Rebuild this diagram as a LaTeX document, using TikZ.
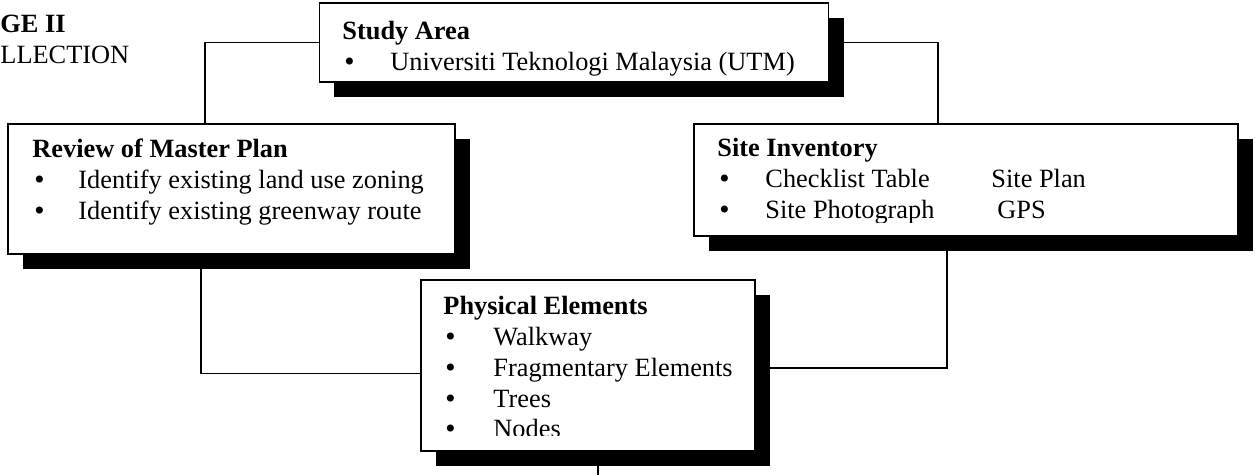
\documentclass[tikz,border=0pt]{standalone}
\usepackage{fontspec}
\setmainfont{Liberation Serif}
\newfontfamily\bulletfont{DejaVu Sans}
\usetikzlibrary{calc,shadows,backgrounds}
\newdimen\pxu
\pxu=0.016cm
\newcommand\bul{{\bulletfont\fontsize{11}{14}\selectfont\textbullet}}

\begin{document}
\begin{tikzpicture}[x=0.016cm, y=-0.016cm,
  every node/.style={font=\fontsize{12}{14}\selectfont, inner sep=0pt},
  box/.style={draw, line width=0.9pt, fill=white,
    drop shadow={shadow xshift=0.24cm, shadow yshift=-0.24cm, fill=black, opacity=1}},
  link/.style={line width=0.8pt}]
  \useasboundingbox (0,0) rectangle (1258,475);

  \node[anchor=base west, font=\fontsize{12}{14}\selectfont\bfseries] (stage) at (0,33) {GE II};
  \node[anchor=base west] (phase) at (0,64) {LLECTION};

  \node[box, minimum width=509*\pxu, minimum height=79*\pxu] (study) at (574,42.5) {};
  \node[box, minimum width=447*\pxu, minimum height=130*\pxu] (review) at (231.5,189) {};
  \node[box, minimum width=544*\pxu, minimum height=112*\pxu] (site) at (966,180) {};
  \node[box, minimum width=334*\pxu, minimum height=171*\pxu] (phys) at (588,365.5) {};
  \coordinate (nextstage) at (598,475);

  \begin{scope}
    \clip (study.north west) rectangle (study.east |- 0,76);
    \node[anchor=base west] (studytxt) at (342,40) {\begin{tabular}[t]{@{}p{48\pxu}@{}l@{}}
      \multicolumn{2}{@{}l}{\textbf{Study Area}}\\
      \bul & Universiti Teknologi Malaysia (UTM)
    \end{tabular}};
  \end{scope}

  \node[anchor=base west] (reviewtxt) at (32,158) {\begin{tabular}[t]{@{}p{46\pxu}@{}l@{}}
    \multicolumn{2}{@{}l}{\textbf{Review of Master Plan}}\\
    \bul & Identify existing land use zoning\\
    \bul & Identify existing greenway route
  \end{tabular}};

  \begin{scope}
    \clip (site.north west) rectangle (site.east |- 0,223);
    \node[anchor=base west] (sitetxt) at (717,157) {\begin{tabular}[t]{@{}p{48\pxu}@{}p{226\pxu}@{}l@{}}
      \multicolumn{3}{@{}l}{\textbf{Site Inventory}}\\
      \bul & Checklist Table & Site Plan\\
      \bul & Site Photograph & \hspace{6\pxu}GPS
    \end{tabular}};
  \end{scope}

  \begin{scope}
    \clip (phys.north west) rectangle (phys.east |- 0,436);
    \node[anchor=base west] (physstxt) at (443,315) {\begin{tabular}[t]{@{}p{50\pxu}@{}l@{}}
      \multicolumn{2}{@{}l}{\textbf{Physical Elements}}\\
      \bul & Walkway\\
      \bul & Fragmentary Elements\\
      \bul & Trees\\
      \bul & Nodes
    \end{tabular}};
  \end{scope}

  \begin{pgfonlayer}{background}
    \draw[link] (study.west) -| ($(review.north)+(-26.5,0)$);
    \draw[link] (study.east) -| ($(site.north)+(-28,0)$);
    \draw[link] ($(review.south)+(-30.5,0)$) |- ($(phys.west)+(0,8)$);
    \draw[link] ($(phys.east)+(0,2.5)$) -| ($(site.south)+(-19,0)$);
    \draw[link] ($(phys.south)+(10,0)$) -- (nextstage);
  \end{pgfonlayer}
\end{tikzpicture}
\end{document}
